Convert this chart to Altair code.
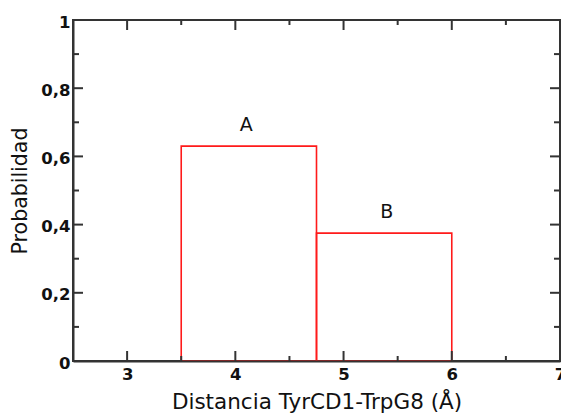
import altair as alt
import pandas as pd

# Histogram bins (distance in Å) and their probabilities
bin_start = [3.5, 4.75]
bin_end = [4.75, 6.0]
prob = [0.63, 0.375]
bin_label = ["A", "B"]
label_x = [4.1, 5.4]

x_major = [3, 4, 5, 6]
x_minor = [3.5, 4.5, 5.5, 6.5]
y_major = [0.2, 0.4, 0.6, 0.8]
y_minor = [0.1, 0.3, 0.5, 0.7, 0.9]

W, H = 487, 341
FONT = "DejaVu Sans"

bars = pd.DataFrame({"x0": bin_start, "x1": bin_end, "p": prob,
                     "lab": bin_label, "lx": label_x})

xs = alt.Scale(domain=[2.5, 7], nice=False, zero=False)
ys = alt.Scale(domain=[0, 1], nice=False)

x_axis = alt.Axis(values=[3, 4, 5, 6, 7], format="d", tickSize=0, labelPadding=5,
                  labelFont=FONT, labelFontSize=16.5, labelFontWeight="bold",
                  labelColor="#111", title="Distancia TyrCD1-TrpG8 (Å)",
                  titleFont=FONT, titleFontSize=21.5, titleFontWeight="normal",
                  titleColor="#111", titlePadding=9, domainColor="#333",
                  domainWidth=2, grid=False, zindex=1, labelFlush=False)
y_axis = alt.Axis(values=[0, 0.2, 0.4, 0.6, 0.8, 1], tickSize=0, labelPadding=3,
                  labelOffset=2,
                  labelExpr="datum.value == 0 ? '0' : datum.value == 1 ? '1' : replace(format(datum.value, '.1f'), '.', ',')",
                  labelFont=FONT, labelFontSize=16.5, labelFontWeight="bold",
                  labelColor="#111", title="Probabilidad", titleFont=FONT,
                  titleFontSize=20.5, titleFontWeight="normal", titleColor="#111",
                  titlePadding=10, domainColor="#333", domainWidth=2,
                  grid=False, zindex=1, labelFlush=False)

rects = alt.Chart(bars).mark_rect(fill=None, stroke="#ff1a1a", strokeWidth=1.6).encode(
    x=alt.X("x0:Q", scale=xs, axis=x_axis),
    x2="x1:Q",
    y=alt.Y("p:Q", scale=ys, axis=y_axis),
    y2=alt.datum(0),
)

labels = alt.Chart(bars).mark_text(font=FONT, fontSize=19, color="#111",
                                   baseline="bottom", dy=-11).encode(
    x=alt.X("lx:Q", scale=xs),
    y=alt.Y("p:Q", scale=ys),
    text="lab:N",
)

def xticks(vals, length):
    df = pd.DataFrame({"v": vals})
    base = alt.Chart(df).mark_rule(color="#333", strokeWidth=2)
    bottom = base.encode(x=alt.X("v:Q", scale=xs), y=alt.value(H), y2=alt.value(H - length))
    top = base.encode(x=alt.X("v:Q", scale=xs), y=alt.value(0), y2=alt.value(length))
    return [bottom, top]

def yticks(vals, length):
    df = pd.DataFrame({"v": vals})
    base = alt.Chart(df).mark_rule(color="#333", strokeWidth=2)
    left = base.encode(y=alt.Y("v:Q", scale=ys), x=alt.value(0), x2=alt.value(length))
    right = base.encode(y=alt.Y("v:Q", scale=ys), x=alt.value(W), x2=alt.value(W - length))
    return [left, right]

tick_layers = xticks(x_major, 10) + xticks(x_minor, 5) + yticks(y_major, 10) + yticks(y_minor, 6)

chart = alt.layer(rects, labels, *tick_layers).properties(
    width=W, height=H,
    autosize=alt.AutoSizeParams(type="none"),
    padding={"left": 73, "top": 20, "right": 1, "bottom": 55},
    background="white",
).configure_view(stroke="#333", strokeWidth=2)

chart.save("out.html", embed_options={"renderer": "svg", "actions": False})
